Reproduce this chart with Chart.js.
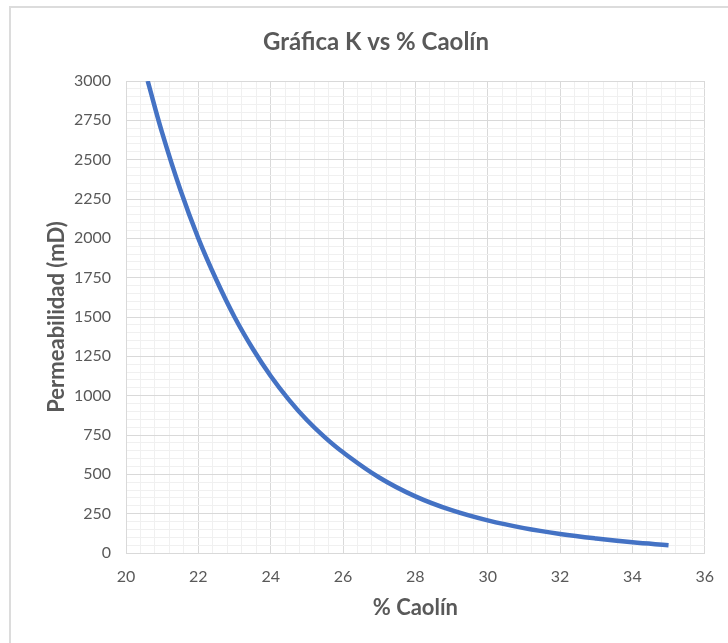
<!DOCTYPE html>
<html>
<head>
<meta charset="utf-8">
<script src="https://cdn.jsdelivr.net/npm/chart.js@4/dist/chart.umd.min.js"></script>
<style>
    html, body { margin: 0; padding: 0; background: #ffffff; }
    #wrap { width: 728px; height: 643px; position: relative; }
</style>
</head>
<body>
<div id="wrap"><canvas id="kChart" width="728" height="643"></canvas></div>
<script>
// % caolín vs permeabilidad (mD)
const caolin = [20.6, 21, 21.5, 22, 22.5, 23, 23.5, 24, 24.5, 25, 25.5, 26, 27, 28, 29, 30, 31, 32, 33, 34, 35];
const permeabilidad = [3000, 2670, 2310, 2000, 1735, 1500, 1300, 1125, 975, 845, 735, 640, 480, 360, 272, 207, 158, 121, 92, 68, 50];

const xTicks = [20, 22, 24, 26, 28, 30, 32, 34, 36];
const yTicks = [0, 250, 500, 750, 1000, 1250, 1500, 1750, 2000, 2250, 2500, 2750, 3000];
const xMinorStep = 0.4;
const yMinorStep = 50;

const chartTitle = 'Gráfica K vs % Caolín';
const textColor = '#595959';
const majorGrid = '#d9d9d9';
const minorGrid = '#f0f0f0';

function round1(v) {
    return Math.round(v * 10) / 10;
}

function minorTicks(min, max, step) {
    let out = [];
    let n = Math.round((max - min) / step);
    for (let i = 0; i <= n; i++) {
        out.push({ value: round1(min + i * step) });
    }
    return out;
}

// light frame around the whole chart, plus the title on top
const framePlugin = {
    id: 'frame',
    beforeDraw(chart) {
        const c = chart.ctx;
        c.save();
        c.strokeStyle = '#dcdcdc';
        c.lineWidth = 2;
        c.strokeRect(10, 7, 760, 700);
        c.restore();
    },
    afterDraw(chart) {
        const c = chart.ctx;
        c.save();
        c.fillStyle = textColor;
        c.font = 'bold 24px Lato';
        c.textAlign = 'center';
        c.textBaseline = 'middle';
        c.fillText(chartTitle, 376, 42);
        c.restore();
    }
};

const ctx = document.getElementById('kChart').getContext('2d');
const kChart = new Chart(ctx, {
    type: 'scatter',
    data: {
        datasets: [{
            data: caolin.map((x, i) => ({ x: x, y: permeabilidad[i] })),
            showLine: true,
            borderColor: '#4472C4',
            borderWidth: 4.5,
            pointRadius: 0,
            tension: 0.4,
            fill: false
        }]
    },
    options: {
        responsive: false,
        animation: false,
        layout: {
            padding: { left: 44, right: 20, top: 81, bottom: 0 }
        },
        plugins: {
            legend: { display: false },
            tooltip: { enabled: false },
            title: { display: false }
        },
        scales: {
            x: {
                type: 'linear',
                min: 20,
                max: 36,
                afterBuildTicks(axis) {
                    axis.ticks = minorTicks(20, 36, xMinorStep);
                },
                afterFit(scale) {
                    scale.height = 90;
                },
                ticks: {
                    autoSkip: false,
                    maxRotation: 0,
                    color: textColor,
                    padding: 14,
                    font: { family: 'Lato', size: 16 },
                    callback: v => xTicks.includes(round1(v)) ? String(round1(v)) : ''
                },
                grid: {
                    drawTicks: false,
                    color: c => xTicks.includes(round1(c.tick.value)) ? majorGrid : minorGrid
                },
                border: { color: majorGrid },
                title: {
                    display: true,
                    text: '% Caolín',
                    color: textColor,
                    font: { family: 'Lato', size: 22, weight: 'bold' },
                    padding: { top: 10, bottom: 22 }
                }
            },
            y: {
                type: 'linear',
                min: 0,
                max: 3000,
                afterBuildTicks(axis) {
                    axis.ticks = minorTicks(0, 3000, yMinorStep);
                },
                afterFit(scale) {
                    scale.width = 82;
                },
                ticks: {
                    autoSkip: false,
                    color: textColor,
                    padding: 15,
                    font: { family: 'Lato', size: 16 },
                    callback: v => yTicks.includes(Math.round(v)) ? String(Math.round(v)) : ''
                },
                grid: {
                    drawTicks: false,
                    color: c => yTicks.includes(Math.round(c.tick.value)) ? majorGrid : minorGrid
                },
                border: { color: majorGrid },
                title: {
                    display: true,
                    text: 'Permeabilidad (mD)',
                    color: textColor,
                    font: { family: 'Lato', size: 22, weight: 'bold' },
                    padding: { top: 0, bottom: 0 }
                }
            }
        }
    },
    plugins: [framePlugin]
});
</script>
</body>
</html>
